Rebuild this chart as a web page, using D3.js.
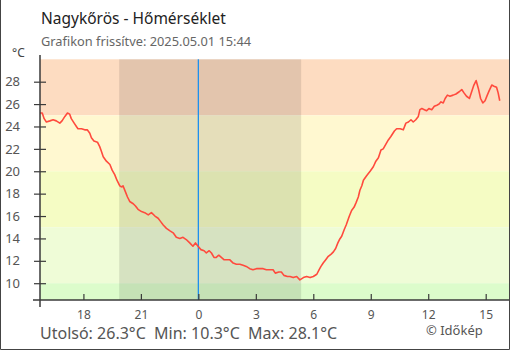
<!DOCTYPE html>
<html>
<head>
<meta charset="utf-8">
<script src="https://cdn.jsdelivr.net/npm/d3@7"></script>
<style>
  html, body { margin: 0; padding: 0; background: #fff; }
  svg { display: block; font-family: "Noto Sans", "Open Sans", sans-serif; }
</style>
</head>
<body>
<svg id="chart" width="510" height="350"></svg>
<script>
// Hőmérséklet mérések (óra:perc, °C), 2025.04.30 15:44 – 2025.05.01 15:44
const times = [
  "15:44","15:51","15:57","16:04","16:15","16:25","16:35","16:46","16:53","17:02",
  "17:10","17:17","17:22","17:31","17:38","17:43","17:54","18:04","18:12","18:20",
  "18:25","18:33","18:44","18:51","18:56","19:02","19:12","19:23","19:30","19:38",
  "19:45","19:54","19:59","20:04","20:11","20:18","20:25","20:36","20:43","20:51",
  "21:02","21:12","21:23","21:33","21:44","21:54","22:02","22:10","22:20","22:30",
  "22:41","22:51","23:02","23:12","23:22","23:33","23:43","23:51","23:59","00:08",
  "00:18","00:25","00:34","00:41","00:49","00:56","01:04","01:12","01:20","01:31",
  "01:38","01:49","01:59","02:10","02:20","02:30","02:41","02:51","03:02","03:12",
  "03:23","03:33","03:44","03:54","04:01","04:12","04:20","04:28","04:39","04:47",
  "04:57","05:08","05:18","05:29","05:39","05:50","06:00","06:11","06:18","06:24",
  "06:31","06:39","06:47","06:56","07:03","07:10","07:17","07:22","07:29","07:37",
  "07:43","07:48","07:53","08:00","08:08","08:14","08:21","08:26","08:32","08:37",
  "08:47","08:58","09:08","09:16","09:24","09:32","09:39","09:47","09:55","10:03",
  "10:14","10:21","10:32","10:42","10:50","10:58","11:06","11:13","11:21","11:29",
  "11:34","11:40","11:48","11:55","12:02","12:11","12:19","12:27","12:34","12:40",
  "12:47","12:53","13:00","13:08","13:18","13:27","13:37","13:45","13:52","14:00",
  "14:09","14:16","14:23","14:30","14:37","14:44","14:51","14:58","15:05","15:11",
  "15:19","15:26","15:34","15:39","15:44"
];
const temps = [
  25.2,25.2,24.7,24.4,24.5,24.6,24.5,24.3,24.5,24.9,
  25.2,25.1,24.7,24.3,24.0,23.8,23.8,23.7,23.7,23.4,
  23.0,22.7,22.6,22.2,21.8,21.3,20.9,20.6,20.1,19.7,
  19.2,18.7,18.6,18.7,18.2,17.7,17.3,17.1,16.9,16.6,
  16.4,16.3,16.1,16.3,16.0,15.8,15.5,15.2,14.9,14.7,
  14.5,14.1,14.0,14.1,13.9,13.6,13.3,13.6,13.3,13.0,
  12.9,12.7,12.9,12.7,12.3,12.3,12.5,12.3,12.1,12.1,
  12.1,11.8,11.7,11.7,11.6,11.5,11.3,11.2,11.3,11.3,
  11.3,11.2,11.2,11.2,10.9,11.0,11.0,10.7,10.6,10.6,
  10.5,10.6,10.3,10.5,10.6,10.5,10.6,10.8,11.2,11.5,
  11.8,12.1,12.4,12.6,12.8,13.1,13.6,13.9,14.2,14.8,
  15.2,15.6,16.0,16.5,16.8,17.2,17.7,18.3,18.7,19.2,
  19.6,20.0,20.4,20.9,21.2,21.9,22.0,22.4,22.8,23.1,
  23.6,23.8,23.8,23.7,24.3,24.4,24.6,24.4,24.6,24.9,
  25.5,25.6,25.5,25.4,25.6,25.5,25.8,25.9,26.0,26.2,
  26.1,26.5,26.8,26.7,26.8,26.9,27.1,27.3,27.0,26.7,
  26.5,27.1,27.7,28.1,27.4,26.5,26.1,26.3,26.8,27.2,
  27.7,27.6,27.5,27.0,26.3
];

// Hőmérsékleti sávok (alsó határ, szín)
const bandFloors = [25, 20, 15, 10, -Infinity];
const bandColors = ["#fddcc1", "#fff8d0", "#f5fcc4", "#effcd7", "#dcfccb"];
const yTicks = [10, 12, 14, 16, 18, 20, 22, 24, 26, 28];
const nightSpan = ["2025-04-30 19:52", "2025-05-01 05:22"];
const xSpan = ["2025-04-30 15:44", "2025-05-01 16:13"];

const title = "Nagykőrös - Hőmérséklet";
const subtitle = "Grafikon frissítve: 2025.05.01 15:44";
const credit = "© Időkép";

const parseFull = d3.timeParse("%Y-%m-%d %H:%M");

// Időpontok dátummal: éjfél után a következő nap
let day = new Date(2025, 3, 30);
let prevH = -1;
const data = times.map((t, i) => {
  const [h, m] = t.split(":").map(Number);
  if (h < prevH) day = d3.timeDay.offset(day, 1);
  prevH = h;
  const d = new Date(day);
  d.setHours(h, m, 0, 0);
  return { date: d, value: temps[i] };
});

const svg = d3.select("#chart");
const plotLeft = 40, plotRight = 509, plotTop = 59.3, plotBottom = 300;

const x = d3.scaleTime()
  .domain(xSpan.map(parseFull))
  .range([plotLeft, plotRight]);
const y = d3.scaleLinear()
  .domain([8.5, 30])
  .range([plotBottom, plotTop]);

// Háttérsávok
const [y0, y1] = y.domain();
bandFloors.forEach((floor, i) => {
  const hi = i === 0 ? y1 : bandFloors[i - 1];
  const lo = Math.max(floor, y0);
  svg.append("rect")
    .attr("x", plotLeft).attr("width", plotRight - plotLeft)
    .attr("y", y(hi)).attr("height", y(lo) - y(hi))
    .attr("fill", bandColors[i]);
});

// Éjszaka
const n0 = parseFull(nightSpan[0]), n1 = parseFull(nightSpan[1]);
svg.append("rect")
  .attr("x", x(n0)).attr("width", x(n1) - x(n0))
  .attr("y", plotTop).attr("height", plotBottom - plotTop)
  .attr("fill", "#000").attr("fill-opacity", 0.1);

// Éjfél
const midnight = new Date(2025, 4, 1, 0, 0);
svg.append("line")
  .attr("x1", x(midnight)).attr("x2", x(midnight))
  .attr("y1", plotTop).attr("y2", plotBottom)
  .attr("stroke", "#1e90ee").attr("stroke-width", 1.3);

// Hőmérséklet görbe
const line = d3.line()
  .x(d => x(d.date))
  .y(d => y(d.value));
svg.append("path")
  .datum(data)
  .attr("fill", "none")
  .attr("stroke", "#ff4a3d")
  .attr("stroke-width", 1.6)
  .attr("stroke-linejoin", "round")
  .attr("d", line);

// Tengelyek
const axisColor = "#3a3a3a";
const xAxis = svg.append("g")
  .attr("transform", `translate(0,${plotBottom})`)
  .call(d3.axisBottom(x)
    .ticks(d3.timeHour.every(3))
    .tickFormat(d3.timeFormat("%-H"))
    .tickSize(-6)
    .tickPadding(10));
xAxis.select(".domain").remove();
xAxis.selectAll(".tick line").attr("stroke", axisColor).attr("stroke-width", 1.2);
xAxis.selectAll(".tick text")
  .attr("fill", "#555").attr("font-size", 12)
  .attr("font-family", "Noto Sans, sans-serif");

const yAxis = svg.append("g")
  .attr("transform", `translate(${plotLeft},0)`)
  .call(d3.axisLeft(y).tickValues(yTicks).tickSize(6).tickPadding(14));
yAxis.select(".domain").remove();
yAxis.selectAll(".tick line").attr("x1", 6).attr("stroke", axisColor).attr("stroke-width", 1.2);
yAxis.selectAll(".tick text")
  .attr("fill", "#555").attr("font-size", 13)
  .attr("font-family", "Noto Sans, sans-serif");

svg.append("line")
  .attr("x1", plotLeft).attr("x2", plotLeft).attr("y1", 55).attr("y2", 307)
  .attr("stroke", axisColor).attr("stroke-width", 1.5);
svg.append("line")
  .attr("x1", 33).attr("x2", plotRight).attr("y1", plotBottom).attr("y2", plotBottom)
  .attr("stroke", axisColor).attr("stroke-width", 1.5);

// Keret
svg.append("path")
  .attr("d", "M0.5,0 V349.5 H509.5 V0")
  .attr("fill", "none").attr("stroke", "#444").attr("stroke-width", 1);

// Szövegek
svg.append("text").attr("x", 41).attr("y", 24)
  .attr("font-size", 15.5).attr("fill", "#222").text(title);
svg.append("text").attr("x", 41).attr("y", 45.5)
  .attr("font-size", 12.8).attr("fill", "#666").text(subtitle);
svg.append("text").attr("x", 12).attr("y", 56.5)
  .attr("font-size", 12).attr("fill", "#444").text("°C");

const last = data[data.length - 1].value;
const minV = d3.min(data, d => d.value);
const maxV = d3.max(data, d => d.value);
const fmt = d3.format(".1f");
svg.append("text").attr("x", 40).attr("y", 339)
  .attr("font-size", 16).attr("fill", "#555")
  .attr("xml:space", "preserve")
  .text(`Utolsó: ${fmt(last)}°C  Min: ${fmt(minV)}°C  Max: ${fmt(maxV)}°C`);
svg.append("text").attr("x", 426).attr("y", 335)
  .attr("font-size", 13).attr("fill", "#555").text(credit);
</script>
</body>
</html>
